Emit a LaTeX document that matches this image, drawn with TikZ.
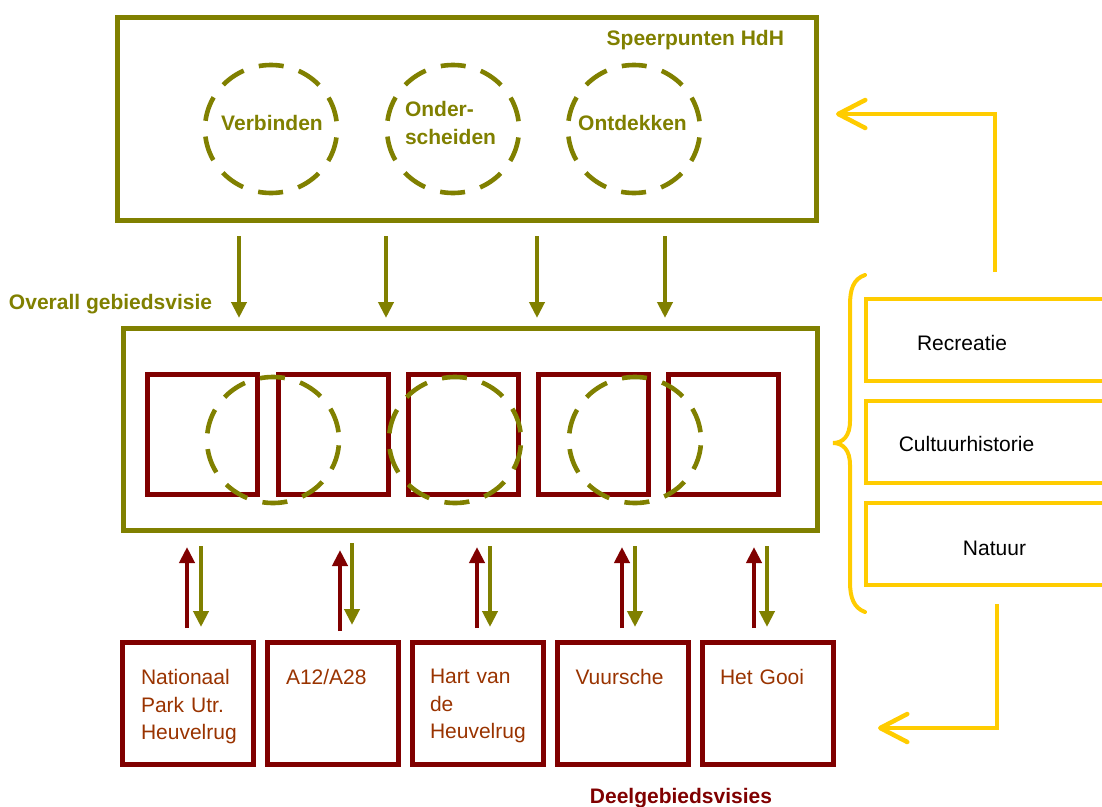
\documentclass[tikz,border=0pt]{standalone}
\usepackage{fontspec}
\setmainfont{Liberation Sans}
\usetikzlibrary{arrows.meta,calc}
\definecolor{olv}{RGB}{128,128,0}
\definecolor{dred}{RGB}{128,0,0}
\definecolor{yel}{RGB}{255,204,0}
\definecolor{brn}{RGB}{153,51,0}
\begin{document}
\begin{tikzpicture}[x=1pt,y=-1pt,
  every node/.style={inner sep=0pt,outer sep=0pt},
  obox/.style={draw=olv,line width=5pt,rectangle},
  rbox/.style={draw=dred,line width=5pt,rectangle,minimum width=110pt,minimum height=120pt},
  bbox/.style={draw=dred,line width=5pt,rectangle,minimum width=131pt,minimum height=122.5pt},
  yslot/.style={rectangle,minimum width=240pt,minimum height=82pt},
  yframe/.style={draw=yel,line width=4.5pt},
  dcirc/.style={draw=olv,line width=4.6pt,dash pattern=on 25pt off 15.8pt,dash phase=33pt},
  oarr/.style={draw=olv,line width=4.5pt,-{Triangle[length=16pt,width=15pt]}},
  rarr/.style={draw=dred,line width=4.5pt,-{Triangle[length=16pt,width=15pt]}},
  yarr/.style={draw=yel,line width=4.5pt,-{Straight Barb[length=27pt,width=28pt,round]}},
  hdr/.style={font=\fontsize{21}{28.3}\selectfont\bfseries,text=olv},
  btxt/.style={font=\fontsize{21}{27.5}\selectfont,text=brn,align=left,text width=125pt,anchor=north west},
  ytxt/.style={font=\fontsize{21}{27.5}\selectfont,text=black,anchor=base}]
\useasboundingbox (0,0) rectangle (1102,806);
\clip (0,0) rectangle (1102,806);

% top box
\node[obox,minimum width=699pt,minimum height=203pt] (top) at (466.5,118.5) {};
\node[hdr,anchor=base east] (sp) at (784,45.5) {Speerpunten HdH};
\foreach \x in {271,453,634}
  \draw[dcirc] (\x,129) ellipse [x radius=66pt,y radius=64pt];
\node[hdr,anchor=base] (verb) at (272,130.5) {Verbinden};
\node[hdr,anchor=north west,align=left] (ond) at (405,101.3) {Onder-\\scheiden};
\node[hdr,anchor=base] (ontd) at (632.5,130.5) {Ontdekken};

% middle box
\node[obox,minimum width=694pt,minimum height=202pt] (mid) at (470,429) {};
\node[hdr,anchor=base west] (ov) at (9,309.5) {Overall gebiedsvisie};
\node[rbox] (r1) at (202.5,434) {};
\node[rbox] (r2) at (333,434) {};
\node[rbox] (r3) at (463,434) {};
\node[rbox] (r4) at (593,434) {};
\node[rbox] (r5) at (723,434) {};
\foreach \x in {273,455,635}
  \draw[dcirc] (\x,440) ellipse [x radius=66pt,y radius=63pt];

% arrows top -> middle
\foreach \i/\x in {1/239,2/386,3/537,4/665}{
  \coordinate (ta\i) at (\x,0);
  \draw[oarr,shorten <=16pt,shorten >=10pt] (top.south -| ta\i) -- (mid.north -| ta\i);
}

% bottom boxes
\node[bbox] (b1) at (187.5,703.25) {};
\node[bbox] (b2) at (332.5,703.25) {};
\node[bbox] (b3) at (477.5,703.25) {};
\node[bbox] (b4) at (622.5,703.25) {};
\node[bbox] (b5) at (767.5,703.25) {};
\node[btxt] (t1) at ($(b1.north west)+(19,27.5)$) {Nationaal\\Park Utr.\\Heuvelrug};
\node[btxt] (t2) at ($(b2.north west)+(19,27.5)$) {A12/A28};
\node[btxt] (t3) at ($(b3.north west)+(18,27.5)$) {Hart van\\de\\Heuvelrug};
\node[btxt] (t4) at ($(b4.north west)+(18.5,27.5)$) {Vuursche};
\node[btxt] (t5) at ($(b5.north west)+(18,27.5)$) {Het Gooi};
\node[font=\fontsize{21}{25}\selectfont\bfseries,text=dred,anchor=base] (dg) at (681,803.5) {Deelgebiedsvisies};

% arrows middle <-> bottom
\foreach \i/\xr/\xo in {1/187/201,3/477/490,4/622/635,5/754/767}{
  \coordinate (cr\i) at (\xr,0);
  \coordinate (co\i) at (\xo,0);
  \draw[rarr,shorten <=14pt,shorten >=17pt] (b\i.north -| cr\i) -- (mid.south -| cr\i);
  \draw[oarr,shorten <=16pt,shorten >=15pt] (mid.south -| co\i) -- (b\i.north -| co\i);
}
\coordinate (cr2) at (340,0);
\coordinate (co2) at (352,0);
\draw[rarr,shorten <=11pt,shorten >=20pt] (b2.north -| cr2) -- (mid.south -| cr2);
\draw[oarr,shorten <=13pt,shorten >=17pt] (mid.south -| co2) -- (b2.north -| co2);

% right side
\node[yslot] (rec) at (986,340) {};
\node[yslot] (cul) at (986,442) {};
\node[yslot] (nat) at (986,544) {};
\foreach \n in {rec,cul,nat}
  \draw[yframe] (\n.north east) -- (\n.north west) -- (\n.south west) -- (\n.south east);
\node[ytxt] (trec) at (962,350) {Recreatie};
\node[ytxt] (tcul) at (966.5,451.7) {Cultuurhistorie};
\node[ytxt] (tnat) at (994.5,555) {Natuur};

% brace
\draw[yel,line width=4pt,line cap=round]
  (865,275) .. controls (853,279) and (850,290) .. (850,305)
  -- (850,421) .. controls (850,436) and (843,443) .. (833,443)
  .. controls (843,443) and (850,450) .. (850,465)
  -- (850,582) .. controls (850,598) and (854,608) .. (865,612);

% yellow arrows
\coordinate (y1s) at (995,272);
\coordinate (y1e) at (836,114);
\draw[yarr] (y1s) |- (y1e);
\coordinate (y2s) at (997,604);
\coordinate (y2e) at (878,728);
\draw[yarr] (y2s) |- (y2e);
\end{tikzpicture}
\end{document}
